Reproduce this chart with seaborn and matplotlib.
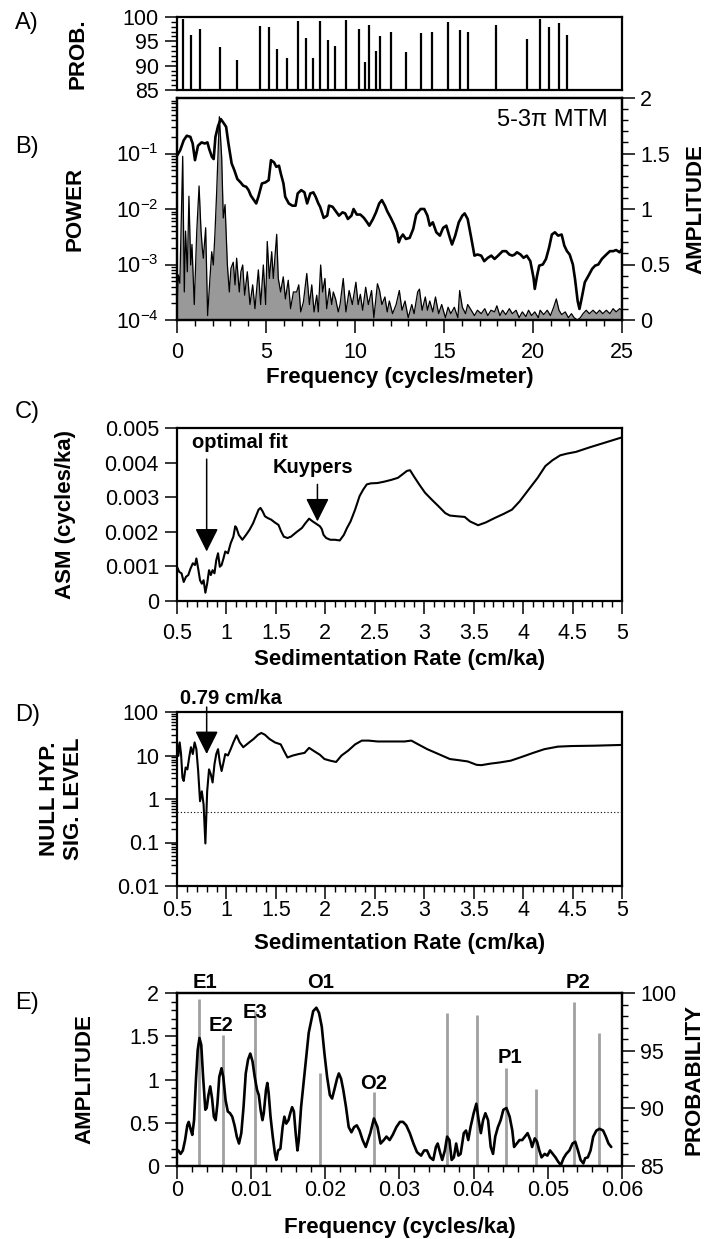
import numpy as np
import matplotlib
matplotlib.use("Agg")
import matplotlib.pyplot as plt
from matplotlib.ticker import MultipleLocator, LogLocator, NullFormatter, FuncFormatter
import seaborn as sns

sns.set_theme(style="ticks")
plt.rcParams['font.family'] = ['Liberation Sans', 'DejaVu Sans']
plt.rcParams['mathtext.fontset'] = 'custom'
plt.rcParams['mathtext.rm'] = 'Liberation Sans'
plt.rcParams['mathtext.it'] = 'Liberation Sans:italic'
plt.rcParams['mathtext.bf'] = 'Liberation Sans:bold'
plt.rcParams['text.color'] = 'black'
plt.rcParams['axes.labelcolor'] = 'black'
plt.rcParams['xtick.color'] = 'black'
plt.rcParams['ytick.color'] = 'black'

# --- A) probability of spectral peaks (cycles/meter) ---
a_freq = [0.35, 0.78, 1.31, 2.42, 3.36, 4.65, 5.15, 5.63, 6.16, 6.82, 7.25, 7.62,
          8.05, 8.46, 8.86, 9.47, 10.2, 10.55, 10.78, 11.18, 11.39, 12.04, 12.85,
          13.71, 14.34, 15.23, 15.91, 16.36, 17.90, 19.67, 20.40, 20.91, 21.46, 21.89]
a_prob = [99.5, 96.4, 97.5, 93.8, 91.2, 98.2, 97.9, 93.4, 91.5, 99.1, 95.7, 91.5,
          99.1, 95.3, 94.1, 99.3, 97.5, 90.8, 98.3, 93.0, 96.1, 97.0, 92.9,
          96.7, 97.0, 98.9, 97.3, 97.0, 98.3, 95.5, 99.5, 98.0, 98.8, 96.4]

# --- B) MTM amplitude (right axis) ---
b_amp_freq = [0, 0.18, 0.38, 0.55, 0.75, 0.88, 1.01, 1.18, 1.38, 1.56, 1.71, 1.81, 1.96,
              2.06, 2.16, 2.31, 2.46, 2.64, 2.76, 2.89, 3.07, 3.22, 3.39, 3.57, 3.72,
              3.89, 4.02, 4.15, 4.32, 4.45, 4.57, 4.77, 4.97, 5.15, 5.28, 5.45, 5.58,
              5.73, 5.83, 5.98, 6.08, 6.28, 6.48, 6.66, 6.78, 6.98, 7.16, 7.31, 7.49,
              7.66, 7.79, 7.94, 8.04, 8.24, 8.44, 8.54, 8.74, 8.92, 9.10, 9.30, 9.45,
              9.60, 9.80, 9.92, 10.10, 10.30, 10.50, 10.68, 10.80, 11.01, 11.18, 11.36,
              11.51, 11.68, 11.81, 12.01, 12.19, 12.36, 12.46, 12.56, 12.69, 12.86,
              13.07, 13.27, 13.44, 13.69, 13.89, 14.07, 14.20, 14.37, 14.57, 14.77,
              14.95, 15.13, 15.33, 15.45, 15.63, 15.83, 16.03, 16.16, 16.33, 16.53,
              16.71, 16.88, 17.09, 17.26, 17.46, 17.66, 17.84, 18.04, 18.29, 18.49,
              18.67, 18.84, 18.97, 19.10, 19.30, 19.47, 19.65, 19.85, 20.03, 20.10,
              20.23, 20.35, 20.55, 20.73, 20.90, 21.06, 21.23, 21.41, 21.61, 21.76,
              21.91, 22.06, 22.24, 22.36, 22.51, 22.61, 22.74, 22.91, 23.12, 23.32,
              23.49, 23.67, 23.87, 24.12, 24.32, 24.50, 24.67, 24.87, 25.0]
b_amp = [1.48, 1.53, 1.62, 1.66, 1.65, 1.59, 1.44, 1.57, 1.60, 1.59, 1.60, 1.54, 1.47,
         1.45, 1.65, 1.75, 1.81, 1.77, 1.74, 1.59, 1.41, 1.35, 1.27, 1.24, 1.21,
         1.20, 1.17, 1.12, 1.08, 1.05, 1.11, 1.23, 1.24, 1.26, 1.44, 1.42, 1.38,
         1.39, 1.32, 1.23, 1.11, 1.05, 1.03, 1.03, 1.14, 1.17, 1.15, 1.05, 1.14,
         1.15, 1.11, 1.05, 1.02, 0.92, 0.94, 1.03, 1.02, 0.98, 0.94, 0.97, 0.96,
         0.91, 0.94, 1.00, 0.95, 0.95, 0.92, 0.88, 0.85, 0.91, 0.97, 1.05,
         1.08, 1.03, 0.98, 0.92, 0.86, 0.79, 0.70, 0.74, 0.77, 0.73,
         0.74, 0.82, 0.95, 1.00, 1.00, 0.94, 0.85, 0.88, 0.79, 0.76,
         0.83, 0.85, 0.74, 0.68, 0.76, 0.88, 0.94, 0.96, 0.91, 0.74,
         0.58, 0.59, 0.58, 0.53, 0.56, 0.58, 0.55, 0.58, 0.62, 0.62,
         0.59, 0.58, 0.59, 0.61, 0.59, 0.56, 0.58, 0.53, 0.38, 0.28,
         0.40, 0.49, 0.50, 0.55, 0.65, 0.77, 0.79, 0.76, 0.77, 0.67,
         0.62, 0.59, 0.50, 0.37, 0.17, 0.10, 0.20, 0.34, 0.40, 0.46,
         0.49, 0.50, 0.55, 0.59, 0.62, 0.62, 0.63, 0.61, 0.64]

# --- B) MTM power (left log axis) ---
b_pow_freq = [0.0, 0.075, 0.16, 0.32, 0.41, 0.48, 0.58, 0.67, 0.77, 0.84, 0.97, 1.11,
              1.24, 1.35, 1.42, 1.48, 1.61, 1.72, 1.85, 1.95, 2.04, 2.13, 2.23, 2.38,
              2.51, 2.60, 2.70, 2.83, 2.94, 3.03, 3.16, 3.26, 3.35, 3.50, 3.59, 3.69,
              3.80, 3.95, 4.10, 4.25, 4.38, 4.57, 4.70, 4.85, 4.98, 5.07, 5.19, 5.32,
              5.41, 5.60, 5.69, 5.82, 5.97, 6.09, 6.25, 6.38, 6.54, 6.72, 6.84, 6.95,
              7.10, 7.29, 7.44, 7.57, 7.70, 7.85, 7.94, 8.07, 8.18, 8.31, 8.41, 8.56,
              8.69, 8.78, 8.91, 9.06, 9.16, 9.34, 9.49, 9.67, 9.85, 10.05, 10.18,
              10.30, 10.43, 10.60, 10.75, 10.93, 11.06, 11.26, 11.38, 11.51, 11.68,
              11.81, 11.93, 12.11, 12.31, 12.49, 12.64, 12.81, 12.99, 13.19, 13.32,
              13.52, 13.62, 13.77, 13.95, 14.07, 14.20, 14.37, 14.52, 14.70, 14.87,
              15.08, 15.23, 15.38, 15.58, 15.78, 15.88, 16.03, 16.21, 16.33, 16.53,
              16.71, 16.88, 17.09, 17.29, 17.46, 17.64, 17.84, 17.97, 18.14, 18.29,
              18.47, 18.67, 18.84, 19.05, 19.22, 19.40, 19.60, 19.75, 19.92, 20.10,
              20.30, 20.40, 20.60, 20.80, 20.98, 21.16, 21.31, 21.46, 21.61, 21.81,
              21.99, 22.16, 22.31, 22.49, 22.66, 22.81, 22.99, 23.17, 23.37, 23.57,
              23.74, 23.92, 24.12, 24.32, 24.50, 24.67, 24.87, 25.0]
b_pow = [1.9e-4, 6.5e-4, 4.6e-4, 8.9e-2, 3.2e-4, 4.0e-3, 7.4e-4, 1.7e-2, 9.8e-4, 2.3e-3,
         1.9e-4, 4.0e-3, 2.6e-2, 4.0e-3, 2.0e-3, 1.3e-3, 4.6e-3, 1.2e-4, 5.6e-4, 1.7e-3,
         9.8e-4, 3.5e-3, 2.1e-2, 4.6e-1, 8.5e-2, 6.9e-3, 1.2e-2, 9.8e-4, 3.2e-4, 8.5e-4,
         1.1e-3, 4.3e-4, 1.3e-3, 3.2e-4, 7.4e-4, 9.8e-4, 2.8e-4, 7.4e-4, 1.9e-4, 4.3e-4,
         1.6e-4, 8.0e-4, 1.9e-4, 9.8e-4, 1.9e-4, 2.6e-3, 5.6e-4, 1.7e-3, 5.6e-4, 3.5e-3,
         5.6e-4, 3.2e-4, 6.0e-4, 2.4e-4, 5.2e-4, 1.6e-4, 3.2e-4, 3.2e-4, 4.3e-4, 1.4e-4,
         2.1e-4, 6.9e-4, 1.9e-4, 4.3e-4, 1.4e-4, 2.8e-4, 1.4e-4, 9.8e-4, 3.2e-4, 5.6e-4,
         1.6e-4, 3.7e-4, 1.9e-4, 3.2e-4, 2.4e-4, 1.4e-4, 1.9e-4, 5.6e-4, 1.4e-4, 3.4e-4,
         1.9e-4, 4.8e-4, 1.9e-4, 2.9e-4, 1.5e-4, 3.9e-4, 1.9e-4, 3.4e-4, 1.1e-4, 4.5e-4,
         3.4e-4, 1.9e-4, 2.6e-4, 1.4e-4, 2.2e-4, 1.3e-4, 1.9e-4, 3.4e-4, 1.5e-4, 2.2e-4,
         1.1e-4, 1.9e-4, 1.3e-4, 3.2e-4, 3.6e-4, 1.5e-4, 2.6e-4, 1.5e-4, 2.2e-4, 1.4e-4,
         2.6e-4, 1.3e-4, 1.9e-4, 1.1e-4, 1.7e-4, 1.3e-4, 1.7e-4, 1.1e-4, 3.4e-4, 1.7e-4,
         1.3e-4, 1.9e-4, 1.5e-4, 1.2e-4, 1.5e-4, 1.3e-4, 1.6e-4, 1.2e-4, 1.5e-4, 1.4e-4,
         1.8e-4, 1.2e-4, 1.5e-4, 1.25e-4, 1.6e-4, 1.3e-4, 1.5e-4, 1.1e-4, 1.4e-4, 1.15e-4,
         1.5e-4, 1.2e-4, 1.4e-4, 1.1e-4, 1.5e-4, 1.25e-4, 1.5e-4, 1.2e-4, 1.7e-4, 2.4e-4,
         1.5e-4, 1.25e-4, 1.4e-4, 1.1e-4, 1.3e-4, 1.1e-4, 1.0e-4, 1.1e-4, 1.3e-4, 1.5e-4,
         1.3e-4, 1.5e-4, 1.3e-4, 1.5e-4, 1.3e-4, 1.5e-4, 1.3e-4, 1.6e-4, 1.4e-4, 1.6e-4,
         1.5e-4]

# --- C) average spectral misfit vs sedimentation rate ---
c_rate = [0.5, 0.523, 0.546, 0.568, 0.591, 0.614, 0.637, 0.66, 0.682, 0.696, 0.714,
          0.733, 0.751, 0.769, 0.787, 0.805, 0.824, 0.842, 0.86, 0.879, 0.897, 0.915,
          0.933, 0.951, 0.97, 0.988, 1.015, 1.043, 1.07, 1.089, 1.102, 1.125, 1.161,
          1.198, 1.234, 1.27, 1.298, 1.325, 1.344, 1.366, 1.389, 1.416, 1.453, 1.489,
          1.526, 1.553, 1.58, 1.617, 1.653, 1.708, 1.763, 1.799, 1.836, 1.872, 1.909,
          1.945, 1.964, 1.982, 2.009, 2.05, 2.096, 2.146, 2.187, 2.219, 2.255, 2.301,
          2.346, 2.383, 2.419, 2.46, 2.529, 2.597, 2.666, 2.734, 2.78, 2.825, 2.857,
          2.894, 2.949, 3.008, 3.076, 3.144, 3.213, 3.259, 3.327, 3.409, 3.463, 3.545,
          3.622, 3.714, 3.805, 3.887, 3.965, 4.056, 4.147, 4.225, 4.298, 4.375, 4.444,
          4.535, 4.672, 4.808, 5.0]
c_asm = [0.00099, 0.00084, 0.0008, 0.00055, 0.0007, 0.00075, 0.00094, 0.00109, 0.00104,
         0.00123, 0.00094, 0.0006, 0.0005, 0.0006, 0.00024, 0.0005, 0.00089, 0.00075,
         0.00089, 0.0008, 0.00118, 0.00138, 0.00099, 0.00104, 0.00123, 0.00143, 0.00138,
         0.00167, 0.00186, 0.00216, 0.00211, 0.00191, 0.00177, 0.00191, 0.00206, 0.00225,
         0.00245, 0.00264, 0.00269, 0.00259, 0.00245, 0.0024, 0.00235, 0.00227, 0.0022,
         0.00201, 0.00186, 0.00182, 0.00186, 0.00199, 0.00211, 0.00225, 0.00238, 0.0023,
         0.00223, 0.00216, 0.00208, 0.00191, 0.00182, 0.00177, 0.00177, 0.00175, 0.00191,
         0.00211, 0.0023, 0.00264, 0.00303, 0.00322, 0.00337, 0.0034, 0.00341, 0.00345,
         0.0035, 0.00356, 0.00366, 0.00376, 0.00378, 0.00361, 0.00337, 0.00313, 0.00293,
         0.00274, 0.00254, 0.00247, 0.00245, 0.00243, 0.0023, 0.00219, 0.00227, 0.0024,
         0.00252, 0.00264, 0.00288, 0.00322, 0.00356, 0.0039, 0.00407, 0.00421, 0.00426,
         0.00431, 0.00444, 0.00456, 0.00473]

# --- D) null hypothesis significance level ---
d_rate = [0.5, 0.514, 0.527, 0.541, 0.555, 0.568, 0.587, 0.605, 0.623, 0.641, 0.66,
          0.678, 0.696, 0.714, 0.733, 0.751, 0.769, 0.787, 0.805, 0.824, 0.842, 0.86,
          0.879, 0.897, 0.915, 0.933, 0.951, 0.97, 0.988, 1.015, 1.043, 1.07, 1.102,
          1.134, 1.17, 1.23, 1.275, 1.32, 1.353, 1.389, 1.435, 1.49, 1.549, 1.58, 1.617,
          1.672, 1.731, 1.79, 1.836, 1.891, 1.945, 1.991, 2.05, 2.109, 2.164, 2.232,
          2.301, 2.369, 2.437, 2.529, 2.62, 2.711, 2.80, 2.87, 2.94, 3.03, 3.144, 3.259,
          3.35, 3.44, 3.53, 3.578, 3.669, 3.76, 3.874, 3.988, 4.102, 4.216, 4.353, 4.49,
          4.718, 5.0]
d_sig = [20, 9.8, 20, 10.8, 3.1, 2.6, 5.3, 4.8, 9.0, 15.5, 10.8, 20, 14, 4.4, 0.89, 1.5,
         0.74, 0.095, 1.5, 4.8, 3.7, 2.4, 6.3, 10.8, 14, 6.9, 4.4, 6.9, 10.8, 10, 14, 20,
         29, 20, 15.5, 20, 24, 30, 33, 30, 24, 20, 18, 13, 9.0, 10, 10.8, 11.5, 15, 12.4,
         10.4, 8.3, 7.6, 7.1, 10, 13, 18, 22, 22, 21, 21, 21, 21, 22, 18, 14, 10.8, 8.3,
         7.8, 7.3, 6.1, 6.0, 6.5, 6.9, 7.6, 9.3, 11.5, 14, 16, 16.5, 16.8, 17.5]
d_threshold = 0.5

# --- E) amplitude spectrum in time (cycles/ka) ---
e_freq = [0.00018, 0.00048, 0.00079, 0.00109, 0.00139, 0.00158, 0.00182, 0.00206, 0.0023,
          0.00255, 0.00279, 0.00303, 0.00327, 0.00352, 0.00382, 0.004, 0.00424, 0.00448,
          0.00473, 0.00497, 0.00521, 0.00545, 0.0057, 0.006, 0.00624, 0.00655, 0.00685,
          0.00715, 0.00745, 0.00776, 0.00806, 0.00836, 0.00867, 0.00897, 0.00927, 0.00958,
          0.00988, 0.01018, 0.01048, 0.01079, 0.01103, 0.01127, 0.01152, 0.0117, 0.012,
          0.01218, 0.01236, 0.01261, 0.01291, 0.01321, 0.01339, 0.01364, 0.01394, 0.01424,
          0.01448, 0.01473, 0.01503, 0.01527, 0.01552, 0.01576, 0.016, 0.01624, 0.01642,
          0.01673, 0.01715, 0.01776, 0.01836, 0.01879, 0.01915, 0.01952, 0.01988, 0.02024,
          0.02061, 0.02091, 0.02121, 0.02158, 0.02182, 0.02212, 0.02242, 0.02279, 0.02315,
          0.02352, 0.02388, 0.02424, 0.02461, 0.02503, 0.02545, 0.02606, 0.02655, 0.02703,
          0.02745, 0.02788, 0.02824, 0.02867, 0.02909, 0.02958, 0.03006, 0.03048, 0.03091,
          0.03139, 0.03188, 0.03236, 0.03291, 0.03333, 0.0337, 0.03412, 0.03455, 0.03491,
          0.03515, 0.03552, 0.03576, 0.03612, 0.03642, 0.03673, 0.03703, 0.03733, 0.03764,
          0.03794, 0.03824, 0.03867, 0.03897, 0.03927, 0.03958, 0.04, 0.04036, 0.04067,
          0.04097, 0.04127, 0.04158, 0.04194, 0.0423, 0.04261, 0.04291, 0.04327, 0.04364,
          0.044, 0.04442, 0.04485, 0.04521, 0.04545, 0.04582, 0.04618, 0.04655, 0.04691,
          0.04727, 0.04764, 0.04788, 0.04824, 0.04855, 0.04885, 0.04915, 0.04958, 0.04994,
          0.0503, 0.05067, 0.05103, 0.05139, 0.05176, 0.05212, 0.05248, 0.05291, 0.05333,
          0.0537, 0.05406, 0.05442, 0.05479, 0.05503, 0.05539, 0.05576, 0.05612, 0.05655,
          0.05697, 0.05745, 0.05782, 0.05818, 0.05855]
e_amp = [0.18, 0.14, 0.18, 0.30, 0.47, 0.51, 0.43, 0.36, 0.53, 0.99, 1.34, 1.48, 1.40,
         1.03, 0.65, 0.67, 0.82, 0.92, 0.78, 0.57, 0.53, 0.72, 1.03, 1.13, 1.03, 0.76,
         0.63, 0.61, 0.57, 0.47, 0.34, 0.26, 0.38, 0.68, 1.07, 1.23, 1.30, 1.21, 1.03,
         0.88, 0.82, 0.65, 0.53, 0.61, 0.88, 0.96, 0.84, 0.57, 0.34, 0.14, 0.07, 0.18,
         0.20, 0.45, 0.57, 0.49, 0.53, 0.61, 0.68, 0.63, 0.38, 0.18, 0.30, 0.68, 1.03,
         1.54, 1.79, 1.83, 1.77, 1.61, 1.30, 1.03, 0.82, 0.78, 0.88, 1.01, 1.07, 1.01,
         0.88, 0.68, 0.45, 0.39, 0.45, 0.47, 0.41, 0.30, 0.22, 0.38, 0.55, 0.45, 0.26,
         0.30, 0.34, 0.30, 0.36, 0.45, 0.51, 0.51, 0.47, 0.38, 0.26, 0.16, 0.12, 0.18,
         0.18, 0.10, 0.07, 0.22, 0.26, 0.14, 0.07, 0.18, 0.34, 0.30, 0.07, 0.10, 0.26,
         0.12, 0.14, 0.38, 0.41, 0.30, 0.45, 0.61, 0.72, 0.53, 0.38, 0.53, 0.61, 0.53,
         0.22, 0.14, 0.34, 0.45, 0.53, 0.65, 0.67, 0.57, 0.41, 0.22, 0.26, 0.30, 0.30,
         0.34, 0.38, 0.30, 0.22, 0.32, 0.28, 0.18, 0.10, 0.14, 0.12, 0.18, 0.14, 0.10,
         0.05, 0.01, 0.09, 0.14, 0.18, 0.26, 0.28, 0.18, 0.07, 0.03, 0.09, 0.10, 0.18,
         0.34, 0.41, 0.43, 0.41, 0.34, 0.26, 0.22]
e_peak_freq = [0.00297, 0.00618, 0.01048, 0.01927, 0.02661, 0.03642, 0.04042, 0.04442,
               0.04836, 0.05358, 0.05685]
e_peak_prob = [99.5, 96.4, 98.4, 93.1, 91.4, 98.3, 98.1, 93.5, 91.7, 99.2, 96.5]
e_names = ['E1', 'E2', 'E3', 'O1', 'O2', 'P1', 'P2']
e_name_freq = [0.0037, 0.0059, 0.0105, 0.0194, 0.0265, 0.0449, 0.0541]
e_name_amp = [2.12, 1.63, 1.78, 2.12, 0.95, 1.25, 2.12]

TICK = 15.5
LABEL = 16
W, H = 706, 1239
fig = plt.figure(figsize=(W / 100, H / 100), dpi=100)


def make_axes(top, bottom):
    return fig.add_axes([177 / W, 1 - bottom / H, 445 / W, (bottom - top) / H])


def style(ax, pad_x=6):
    for sp in ax.spines.values():
        sp.set_linewidth(1.6)
        sp.set_color('black')
        sp.set_visible(True)
    ax.tick_params(which='major', direction='out', length=9, width=1.1,
                   labelsize=TICK, color='black', labelcolor='black')
    ax.tick_params(which='minor', direction='out', length=4.5, width=1.0, color='black')
    ax.tick_params(axis='x', pad=pad_x)
    ax.tick_params(axis='y', pad=4)
    ax.grid(False)
    ax.set_facecolor('white')


fmt_g = FuncFormatter(lambda v, p: f"{v:g}")
ARROW = dict(arrowstyle="-|>,head_length=0.8,head_width=0.4", color='black', lw=1.1,
             shrinkA=0, shrinkB=0, mutation_scale=18)
BOLD = dict(fontsize=LABEL, fontweight='bold', color='black')
NOTE = dict(fontsize=14.5, fontweight='bold', color='black')

# ---------------- A ----------------
ax_a = make_axes(17, 90)
style(ax_a)
ax_a.vlines(a_freq, 85, a_prob, color='black', lw=1.6)
ax_a.set_xlim(0, 25)
ax_a.set_ylim(85, 100)
ax_a.set_xticks([])
ax_a.yaxis.set_major_locator(MultipleLocator(5))
ax_a.yaxis.set_minor_locator(MultipleLocator(1))
ax_a.yaxis.set_major_formatter(fmt_g)
ax_a.set_ylabel('PROB.', **BOLD)
ax_a.yaxis.set_label_coords(-0.20, 0.5)

# ---------------- B ----------------
ax_b = make_axes(98, 320)
style(ax_b, pad_x=7)
ax_b.fill_between(b_pow_freq, b_pow, 1e-4, color='#999999', lw=0)
sns.lineplot(x=b_pow_freq, y=b_pow, ax=ax_b, color='black', linewidth=0.9,
             estimator=None, sort=False)
ax_b.set_yscale('log')
ax_b.set_ylim(1e-4, 1)
ax_b.set_xlim(0, 25)
ax_b.set_yticks([1e-4, 1e-3, 1e-2, 1e-1])
ax_b.set_yticklabels([r'$10^{-4}$', r'$10^{-3}$', r'$10^{-2}$', r'$10^{-1}$'])
ax_b.yaxis.set_minor_locator(LogLocator(base=10, subs=np.arange(2, 10), numticks=20))
ax_b.yaxis.set_minor_formatter(NullFormatter())
ax_b.xaxis.set_major_locator(MultipleLocator(5))
ax_b.xaxis.set_minor_locator(MultipleLocator(1))
ax_b.xaxis.set_major_formatter(fmt_g)
ax_b.set_xlabel('Frequency (cycles/meter)', **BOLD)
ax_b.xaxis.set_label_coords(0.5, -0.26)
ax_b.xaxis.label.set_va('center')
ax_b.set_ylabel('POWER', **BOLD)
ax_b.yaxis.set_label_coords(-0.205, 0.5)

ax_b2 = ax_b.twinx()
style(ax_b2)
sns.lineplot(x=b_amp_freq, y=b_amp, ax=ax_b2, color='black', linewidth=1.9,
             estimator=None, sort=False)
ax_b2.set_ylim(0, 2)
ax_b2.yaxis.set_major_locator(MultipleLocator(0.5))
ax_b2.yaxis.set_minor_locator(MultipleLocator(0.1))
ax_b2.yaxis.set_major_formatter(fmt_g)
ax_b2.set_ylabel('AMPLITUDE', **BOLD)
ax_b2.yaxis.set_label_coords(1.142, 0.5)
ax_b2.text(0.968, 0.90, '5-3\u03c0 MTM', transform=ax_b2.transAxes, ha='right',
           va='center', fontsize=17, color='black')

# ---------------- C ----------------
ax_c = make_axes(428, 601)
style(ax_c, pad_x=7)
sns.lineplot(x=c_rate, y=c_asm, ax=ax_c, color='black', linewidth=1.5,
             estimator=None, sort=False)
ax_c.set_xlim(0.5, 5)
ax_c.set_ylim(0, 0.005)
ax_c.xaxis.set_major_locator(MultipleLocator(0.5))
ax_c.xaxis.set_minor_locator(MultipleLocator(0.1))
ax_c.xaxis.set_major_formatter(fmt_g)
ax_c.yaxis.set_major_locator(MultipleLocator(0.001))
ax_c.yaxis.set_major_formatter(fmt_g)
ax_c.set_xlabel('Sedimentation Rate (cm/ka)', **BOLD)
ax_c.xaxis.set_label_coords(0.5, -0.34)
ax_c.xaxis.label.set_va('center')
ax_c.set_ylabel('ASM (cycles/ka)', **BOLD)
ax_c.yaxis.set_label_coords(-0.227, 0.5)
ax_c.annotate('', xy=(0.8, 0.00143), xytext=(0.8, 0.0041), arrowprops=ARROW)
ax_c.text(1.14, 0.00457, 'optimal fit', ha='center', va='center', **NOTE)
ax_c.annotate('', xy=(1.92, 0.0023), xytext=(1.92, 0.00337), arrowprops=ARROW)
ax_c.text(1.87, 0.00385, 'Kuypers', ha='center', va='center', **NOTE)

# ---------------- D ----------------
ax_d = make_axes(712, 886)
style(ax_d, pad_x=1)
sns.lineplot(x=d_rate, y=d_sig, ax=ax_d, color='black', linewidth=1.5,
             estimator=None, sort=False)
ax_d.axhline(d_threshold, color='black', lw=0.8, ls=(0, (1, 2)))
ax_d.set_yscale('log')
ax_d.set_ylim(0.01, 100)
ax_d.set_xlim(0.5, 5)
ax_d.set_yticks([0.01, 0.1, 1, 10, 100])
ax_d.set_yticklabels(['0.01', '0.1', '1', '10', '100'])
ax_d.yaxis.set_minor_locator(LogLocator(base=10, subs=np.arange(2, 10), numticks=20))
ax_d.yaxis.set_minor_formatter(NullFormatter())
ax_d.xaxis.set_major_locator(MultipleLocator(0.5))
ax_d.xaxis.set_minor_locator(MultipleLocator(0.1))
ax_d.xaxis.set_major_formatter(fmt_g)
ax_d.set_xlabel('Sedimentation Rate (cm/ka)', **BOLD)
ax_d.xaxis.set_label_coords(0.5, -0.328)
ax_d.xaxis.label.set_va('center')
ax_d.set_ylabel('NULL HYP.\nSIG. LEVEL', linespacing=1.15, **BOLD)
ax_d.yaxis.set_label_coords(-0.21, 0.5)
ax_d.annotate('', xy=(0.8, 10.8), xytext=(0.8, 130), arrowprops=ARROW,
              annotation_clip=False)
ax_d.text(1.05, 205, '0.79 cm/ka', ha='center', va='center', clip_on=False, **NOTE)

# ---------------- E ----------------
ax_e = make_axes(993, 1166)
style(ax_e, pad_x=1)
ax_e2 = ax_e.twinx()
style(ax_e2)
ax_e2.vlines(e_peak_freq, 85, e_peak_prob, color='#a0a0a0', lw=2.0)
ax_e2.set_ylim(85, 100)
ax_e2.yaxis.set_major_locator(MultipleLocator(5))
ax_e2.yaxis.set_minor_locator(MultipleLocator(1))
ax_e2.yaxis.set_major_formatter(fmt_g)
ax_e2.set_ylabel('PROBABILITY', **BOLD)
ax_e2.yaxis.set_label_coords(1.138, 0.5)
ax_e.set_zorder(ax_e2.get_zorder() + 1)
ax_e.patch.set_visible(False)
sns.lineplot(x=e_freq, y=e_amp, ax=ax_e, color='black', linewidth=1.9,
             estimator=None, sort=False)
ax_e.set_xlim(0, 0.06)
ax_e.set_ylim(0, 2)
ax_e.xaxis.set_major_locator(MultipleLocator(0.01))
ax_e.xaxis.set_minor_locator(MultipleLocator(0.002))
ax_e.xaxis.set_major_formatter(fmt_g)
ax_e.yaxis.set_major_locator(MultipleLocator(0.5))
ax_e.yaxis.set_minor_locator(MultipleLocator(0.1))
ax_e.yaxis.set_major_formatter(fmt_g)
ax_e.set_xlabel('Frequency (cycles/ka)', **BOLD)
ax_e.xaxis.set_label_coords(0.5, -0.353)
ax_e.xaxis.label.set_va('center')
ax_e.set_ylabel('AMPLITUDE', **BOLD)
ax_e.yaxis.set_label_coords(-0.184, 0.5)
for name, fx, fy in zip(e_names, e_name_freq, e_name_amp):
    ax_e.text(fx, fy, name, ha='center', va='center', clip_on=False, **NOTE)

# panel letters
for letter, ypx in zip(['A)', 'B)', 'C)', 'D)', 'E)'], [23, 147, 412, 715, 1003]):
    fig.text(15 / W, 1 - ypx / H, letter, ha='left', va='center', fontsize=17,
             color='black')

fig.savefig('out.png', dpi=100, facecolor='white')
